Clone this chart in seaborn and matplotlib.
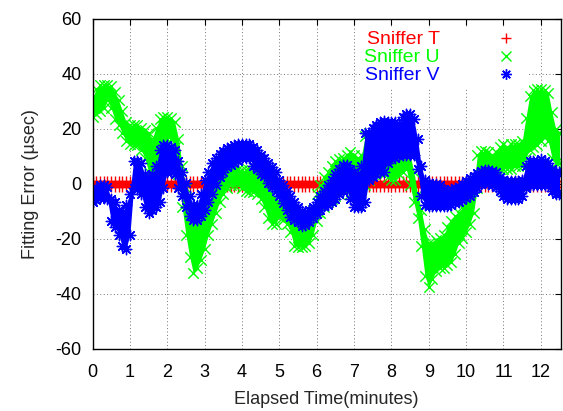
import numpy as np
import pandas as pd
import matplotlib
matplotlib.use("Agg")
import matplotlib.pyplot as plt
from matplotlib.lines import Line2D
import seaborn as sns

# Sample times (minutes), one every 0.1 min
minutes = np.round(np.arange(0, 12.51, 0.1), 2)

# Sniffer U: upper / lower edge of the error cloud (usec)
u_upper = [31.5, 34.5, 36, 36, 36, 35.5, 33.5, 30.5, 26.5, 22.5,
           21.5, 21.5, 21.5, 20.5, 19.5, 18.5, 16.5, 20.5, 23.5, 24.5,
           24.5, 24, 22.5, 16.5, 6.5, -1.5, -9.5, -13.5, -14.5, -13.5,
           -11.5, -7.5, -3.5, 0.5, 3.5, 5.5, 6.5, 6.5, 6.5, 5.5,
           5, 5, 5, 4.5, 4, 2.5, 0.5, -1.5, -3.5, -5.5,
           -6.5, -7.5, -8.5, -10.5, -12.5, -13.5, -13.5, -12.5, -11.5, -9.5,
           -3.5, -0.5, 2.5, 4.5, 6.5, 8.5, 9, 9.5, 10.5, 11.5,
           10.5, 9.5, 10.5, 17.5, 18.5, 18.5, 17.5, 16.5, 13.5, 10.5,
           8.5, 8.5, 10.5, 11.5, 11.5, 10.5, 4.5, -3.5, -9.5, -16.5,
           -21.5, -21.5, -20.5, -19.5, -18.5, -15.5, -13.5, -11.5, -10.5, -8.5,
           -6.5, -3.5, -1.5, 10.5, 12, 12, 11.5, 10.5, 11.5, 13.5,
           14.5, 13.5, 14.5, 14.5, 14.5, 15.5, 24, 32, 34, 34.5,
           34.5, 34, 33, 26, 20, 18.5]
u_lower = [24.5, 25.5, 26.5, 27.5, 30.5, 27.5, 23.5, 21.5, 18.5, 15.5,
           14.5, 14, 14, 12.5, 9.5, 4.5, 1.5, 3.5, 9.5, 15.5,
           16.5, 16.5, 13.5, 3.5, -8.5, -18.5, -26.5, -32.5, -30.5, -27.5,
           -23.5, -18.5, -14.5, -10.5, -6.5, -3.5, -1.5, -0.5, -0.5, -0.5,
           -1.5, -2.5, -3, -3, -3.5, -5.5, -8.5, -12.5, -14.5, -14.5,
           -12, -13, -14.5, -17.5, -22.5, -23, -23, -22.5, -21.5, -18.5,
           -13.5, -10.5, -8.5, -6.5, -5.5, -4.5, -3.5, -2.5, -2.5, -3.5,
           -4.5, -5.5, -4.5, -0.5, 1.5, 3.5, 4.5, 4.5, 3.5, 2.5,
           1.5, 1.5, 3.5, 4.5, 5.5, -0.5, -6.5, -12.5, -22.5, -33.5,
           -37.5, -34.5, -31.5, -30.5, -30.5, -29.5, -28.5, -25.5, -21.5, -19.5,
           -17.5, -14.5, -10.5, -1.5, 3, 3.5, 4.5, 5.5, 5.5, 5.5,
           5.5, 5.5, 5.5, 6.5, 6.5, 6.5, 9.5, 12.5, 13.5, 14,
           15.5, 17, 15.5, 9.5, 7.5, 7.5]

# Sniffer V: upper / lower edge of the error cloud (usec)
v_upper = [-3, -1.5, -0.5, -0.5, -1, -5.5, -6.5, -9.5, -10.5, -7.5,
           -3.5, 8.5, 8.5, 7.5, 3.5, 2.5, 3.5, 6.5, 12.5, 14,
           14, 13.5, 12.5, 8.5, 4.5, 0.5, -4.5, -7.5, -7.5, -3.5,
           1.5, 4.5, 7.5, 9.5, 11, 12, 13, 13.5, 14, 14.5,
           14.5, 14.5, 14.5, 13.5, 12.5, 10.5, 9.5, 7.5, 6, 4.5,
           1.5, -0.5, -2.5, -4.5, -6.5, -8.5, -10, -11, -9.5, -8.5,
           -6.5, -4.5, -2.5, -0.5, 1.5, 3.5, 5.5, 7, 7, 5.5,
           4.5, 3.5, 6.5, 18.5, 18.5, 20.5, 21.5, 22.5, 23, 22.5,
           22.5, 22.5, 21.5, 24.5, 25.5, 25.5, 23.5, 16.5, 6.5, 1.5,
           0.5, 0, 0, -0.5, -2, -2.5, -2, -1.5, -1, 0,
           1, 2, 3, 4, 4.8, 5, 5, 4.8, 4.5, 2.5,
           1.5, 1, 1, 1, 1, 1.5, 6.5, 8.5, 8.5, 8.5,
           9, 8.5, 7.5, 5.5, 4.5, 4.5]
v_lower = [-6.5, -6, -5, -5, -5.5, -13.5, -15.5, -18.5, -22.5, -23.5,
           -18.5, -1.5, -2, -3.5, -8.5, -10.5, -9.5, -8.5, -6.5, -1.5,
           4.5, 4.5, 3.5, -1.5, -4.5, -8.5, -11.5, -13, -13, -11.5,
           -9.5, -6.5, -3.5, -0.5, 2.5, 4.5, 6, 7, 7.5, 8.5,
           9.5, 9.5, 9.5, 6.5, 5.5, 3.5, 3, 0.5, -1, -2.5,
           -4.5, -7, -9.5, -12, -13, -14, -15.2, -15, -14, -12.5,
           -11, -9.5, -8, -7.5, -6.5, -5.5, -3.5, -2.5, -2, -5.5,
           -8.5, -8.5, -8.5, -6.5, 1.5, 2.5, 3.5, 4.5, 4.5, 7.5,
           9.5, 9.5, 10, 10.5, 10.5, 10.5, 10.5, 5.5, -4.5, -7.5,
           -8, -8, -8, -8, -8, -8, -7.5, -7, -6.5, -6,
           -5, -4.5, -3, -1.5, 0, 0.5, 0, -0.5, -1, -2.5,
           -4.5, -5.5, -5.5, -5.5, -5.5, -4.5, -1.5, -0.5, -0.5, -0.5,
           -0.5, -0.5, -0.5, -2.5, -3.5, -3.5]

# Sniffer T stays on the reference clock: a flat band around zero
t_upper = [1.1] * len(minutes)
t_lower = [-1.1] * len(minutes)

series_names = ["Sniffer T", "Sniffer U", "Sniffer V"]
series_colors = ["#ff0000", "#00ff00", "#0000ff"]
series_markers = ["+", "x", (8, 2, 0)]
series_bounds = [(t_lower, t_upper), (u_lower, u_upper), (v_lower, v_upper)]

x_ticks = list(range(0, 13))
y_ticks = list(range(-60, 61, 20))

sns.set_theme(style="white")
plt.rcParams["font.family"] = ["Liberation Sans", "DejaVu Sans"]
plt.rcParams["axes.unicode_minus"] = False

fig = plt.figure(figsize=(5.63, 4.11), dpi=100)
ax = fig.add_axes([0.1643, 0.1509, 0.8321, 0.8029])

for name, color, marker, (lo, hi) in zip(series_names, series_colors,
                                          series_markers, series_bounds):
    ax.fill_between(minutes, lo, hi, color=color, linewidth=0)
    df = pd.DataFrame({
        "minutes": np.concatenate([minutes, minutes]),
        "error": np.concatenate([lo, hi]),
    })
    sns.scatterplot(data=df, x="minutes", y="error", marker=marker,
                    color=color, s=56, linewidth=1.0, ax=ax, legend=False)

ax.set_xlim(0, 12.54)
ax.set_ylim(-60, 60)
ax.set_xticks(x_ticks)
ax.set_yticks(y_ticks)
ax.set_axisbelow(True)
ax.grid(True, color="0.45", linestyle=(0, (1, 2.5)), linewidth=0.7)
ax.tick_params(direction="in", top=True, right=True, length=4, width=0.8,
               labelsize=13, colors="black")
ax.tick_params(axis="x", pad=11)
ax.tick_params(axis="y", pad=8)
for sp in ax.spines.values():
    sp.set_color("black")
    sp.set_linewidth(1.0)

ax.set_xlabel("Elapsed Time(minutes)", fontsize=13, labelpad=7)
ax.set_ylabel("Fitting Error (\u00b5sec)", fontsize=13, labelpad=12)

handles = [Line2D([], [], linestyle="none", marker=m, color=c,
                  markersize=7.5, markeredgewidth=1.0)
           for m, c in zip(series_markers, series_colors)]
ax.legend(handles, series_names, loc="upper right",
          bbox_to_anchor=(529 / 563, 1 - 27 / 411),
          bbox_transform=fig.transFigure, markerfirst=False,
          frameon=True, facecolor="white", edgecolor="none", framealpha=1,
          fancybox=False, fontsize=14, labelcolor=series_colors,
          handletextpad=2.4, handlelength=2.0, borderpad=0.2,
          labelspacing=0.02, borderaxespad=0)

fig.savefig("out.png", dpi=100)
